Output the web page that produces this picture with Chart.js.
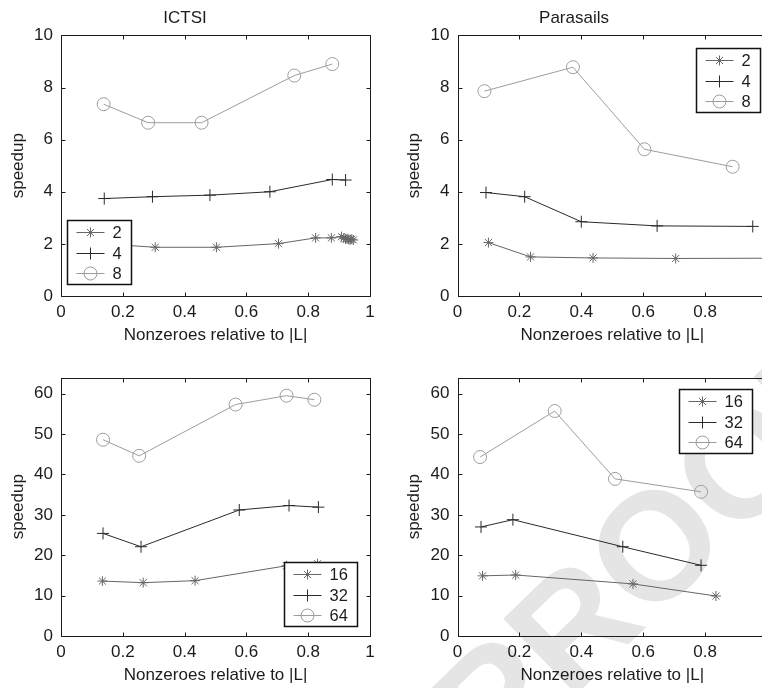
<!DOCTYPE html>
<html>
<head>
<meta charset="utf-8">
<title>Speedup vs. nonzeroes</title>
<script src="https://cdn.jsdelivr.net/npm/chart.js@4.4.1/dist/chart.umd.min.js"></script>
<style>
  html, body { margin: 0; padding: 0; background: #fff; overflow: hidden; }
  body { position: relative; width: 762px; height: 688px; }
  canvas { position: absolute; }
  #proof {
    position: absolute; left: 654px; top: 545px;
    transform: translate(-50%, -50%) rotate(-44deg);
    font: bold 153px "Liberation Sans", Arial, sans-serif;
    line-height: 1; color: #e5e5e5; white-space: nowrap;
  }
</style>
</head>
<body>
<div id="proof">PROOF</div>
<canvas id="ictsiLow" width="381" height="348" style="left:0;top:0"></canvas>
<canvas id="parasailsLow" width="400" height="348" style="left:381px;top:0"></canvas>
<canvas id="ictsiHigh" width="381" height="348" style="left:0;top:340px"></canvas>
<canvas id="parasailsHigh" width="400" height="348" style="left:381px;top:340px"></canvas>
<script>
// tick labels
const xTicks = [0, 0.2, 0.4, 0.6, 0.8, 1];
const yTicksLow = [0, 2, 4, 6, 8, 10];
const yTicksHigh = [0, 10, 20, 30, 40, 50, 60];

const xLabel = 'Nonzeroes relative to |L|';
const yLabel = 'speedup';

// ICTSI, 2 / 4 / 8 processors
const ictsiNnz2 = [0.14, 0.305, 0.503, 0.704, 0.824, 0.875, 0.908, 0.915, 0.921, 0.926, 0.931, 0.936, 0.941, 0.946];
const ictsiSpeedup2 = [2.0, 1.87, 1.87, 2.01, 2.23, 2.23, 2.28, 2.22, 2.19, 2.2, 2.17, 2.16, 2.18, 2.15];
const ictsiNnz4 = [0.14, 0.296, 0.482, 0.676, 0.878, 0.921];
const ictsiSpeedup4 = [3.74, 3.81, 3.87, 4.0, 4.47, 4.45];
const ictsiNnz8 = [0.138, 0.282, 0.455, 0.755, 0.878];
const ictsiSpeedup8 = [7.36, 6.65, 6.65, 8.46, 8.9];

// Parasails, 2 / 4 / 8 processors
const paraNnz2 = [0.1, 0.236, 0.438, 0.705, 1.0];
const paraSpeedup2 = [2.05, 1.5, 1.46, 1.44, 1.45];
const paraNnz4 = [0.092, 0.217, 0.4, 0.645, 0.954];
const paraSpeedup4 = [3.97, 3.81, 2.85, 2.69, 2.67];
const paraNnz8 = [0.087, 0.373, 0.604, 0.889];
const paraSpeedup8 = [7.86, 8.78, 5.63, 4.96];

// ICTSI, 16 / 32 / 64 processors
const ictsiNnz16 = [0.134, 0.266, 0.434, 0.73, 0.83];
const ictsiSpeedup16 = [13.6, 13.2, 13.7, 17.4, 17.9];
const ictsiNnz32 = [0.136, 0.259, 0.577, 0.738, 0.833];
const ictsiSpeedup32 = [25.4, 22.1, 31.2, 32.3, 31.9];
const ictsiNnz64 = [0.136, 0.253, 0.565, 0.73, 0.82];
const ictsiSpeedup64 = [48.6, 44.6, 57.3, 59.5, 58.5];

// Parasails, 16 / 32 / 64 processors
const paraNnz16 = [0.081, 0.188, 0.567, 0.835];
const paraSpeedup16 = [14.9, 15.1, 12.9, 9.9];
const paraNnz32 = [0.076, 0.179, 0.534, 0.787];
const paraSpeedup32 = [27.0, 28.8, 22.1, 17.5];
const paraNnz64 = [0.073, 0.314, 0.509, 0.787];
const paraSpeedup64 = [44.3, 55.7, 38.9, 35.7];

const FONT = '"Liberation Sans", Arial, Helvetica, sans-serif';
const INK = '#1c1c1c';

// matlab-ish line styles: '*-', '+-', 'o-'
const STYLES = [
  { marker: 'star', color: '#666666', radius: 5 },
  { marker: 'cross', color: '#2a2a2a', radius: 6 },
  { marker: 'circle', color: '#9d9d9d', radius: 6.5 }
];

// closed box with inward ticks on all four sides, plus a boxed legend inside the axes
const framePlugin = {
  id: 'frame',
  afterDraw(chart, args, opts) {
    const { ctx, chartArea: a, scales } = chart;
    const L = Math.round(a.left) + 0.5, R = Math.round(a.right) + 0.5;
    const T = Math.round(a.top) + 0.5, B = Math.round(a.bottom) + 0.5;
    const tick = 4;
    ctx.save();
    ctx.strokeStyle = INK;
    ctx.lineWidth = 1;
    ctx.strokeRect(L, T, R - L, B - T);
    ctx.beginPath();
    scales.x.ticks.forEach(t => {
      const px = Math.round(scales.x.getPixelForValue(t.value)) + 0.5;
      ctx.moveTo(px, B); ctx.lineTo(px, B - tick);
      ctx.moveTo(px, T); ctx.lineTo(px, T + tick);
    });
    scales.y.ticks.forEach(t => {
      const py = Math.round(scales.y.getPixelForValue(t.value)) + 0.5;
      ctx.moveTo(L, py); ctx.lineTo(L + tick, py);
      ctx.moveTo(R, py); ctx.lineTo(R - tick, py);
    });
    ctx.stroke();

    // legend
    const lg = opts.legend;
    if (lg) {
      ctx.font = '16.5px ' + FONT;
      const texts = chart.data.datasets.map(d => d.label);
      const tw = Math.max(...texts.map(s => ctx.measureText(s).width));
      const w = Math.round(45 + tw + 10), h = 64;
      const left = Math.round(lg.anchor.includes('l') ? a.left + lg.dx : a.right - lg.dx - w) + 0.5;
      const top = Math.round(lg.anchor.includes('t') ? a.top + lg.dy : a.bottom - lg.dy - h) + 0.5;
      ctx.fillStyle = '#fff';
      ctx.fillRect(left, top, w, h);
      ctx.lineWidth = 1.5;
      ctx.strokeStyle = '#111';
      ctx.strokeRect(left, top, w, h);
      chart.data.datasets.forEach((d, i) => {
        const y = Math.round(top + 11.5 + i * 20.5) + 0.5;
        ctx.lineWidth = 1;
        ctx.strokeStyle = d.borderColor;
        ctx.beginPath();
        ctx.moveTo(left + 9, y); ctx.lineTo(left + 37, y);
        ctx.stroke();
        ctx.fillStyle = 'rgba(0,0,0,0)';
        Chart.helpers.drawPoint(ctx, { pointStyle: d.pointStyle, radius: d.pointRadius, borderWidth: 1, rotation: 0 }, left + 23, y);
        ctx.fillStyle = INK;
        ctx.textBaseline = 'middle';
        ctx.textAlign = 'left';
        ctx.fillText(d.label, left + 45, y + 1);
      });
    }
    ctx.restore();
  }
};

function makePanel(id, cfg) {
  const datasets = cfg.series.map((s, i) => {
    const st = STYLES[i];
    return {
      label: s.label,
      data: s.x.map((x, j) => ({ x, y: s.y[j] })),
      borderColor: st.color,
      backgroundColor: 'rgba(0,0,0,0)',
      borderWidth: 1,
      tension: 0,
      fill: false,
      pointStyle: st.marker,
      pointRadius: st.radius,
      pointBorderWidth: 1,
      pointBorderColor: st.color,
      pointBackgroundColor: 'rgba(0,0,0,0)'
    };
  });
  const font = { family: FONT, size: 17, weight: 'normal' };
  const grid = { display: false, drawTicks: false };
  return new Chart(document.getElementById(id), {
    type: 'line',
    data: { datasets },
    plugins: [framePlugin],
    options: {
      responsive: false,
      animation: false,
      events: [],
      layout: { padding: { left: 0, right: cfg.padRight, top: cfg.title ? 0 : 37.5, bottom: 0 } },
      plugins: {
        legend: { display: false },
        tooltip: { enabled: false },
        title: {
          display: !!cfg.title, text: cfg.title, color: INK, font,
          padding: { top: 8, bottom: 7 }
        },
        frame: { legend: cfg.legend }
      },
      scales: {
        x: {
          type: 'linear', min: 0, max: 1,
          grid, border: { display: false },
          ticks: { color: INK, font, padding: 6, maxRotation: 0, callback: v => String(v) },
          afterBuildTicks: s => { s.ticks = xTicks.map(v => ({ value: v })); },
          afterFit: s => { s.height = 52; s.paddingLeft = 0; s.paddingRight = 0; },
          title: { display: true, text: xLabel, color: INK, font, padding: { top: 0, bottom: 2 } }
        },
        y: {
          type: 'linear', min: 0, max: cfg.yMax,
          grid, border: { display: false },
          ticks: { color: INK, font, padding: 8, callback: v => String(v) },
          afterBuildTicks: s => { s.ticks = cfg.yTicks.map(v => ({ value: v })); },
          afterFit: s => { s.width = cfg.yWidth; s.paddingTop = 0; s.paddingBottom = 0; },
          title: { display: true, text: yLabel, color: INK, font, padding: { top: cfg.yWidth - 43 - 10.2, bottom: 0 } }
        }
      }
    }
  });
}

makePanel('ictsiLow', {
  title: 'ICTSI', yMax: 10, yTicks: yTicksLow, yWidth: 61, padRight: 11,
  legend: { anchor: 'bl', dx: 6, dy: 12 },
  series: [
    { label: '2', x: ictsiNnz2, y: ictsiSpeedup2 },
    { label: '4', x: ictsiNnz4, y: ictsiSpeedup4 },
    { label: '8', x: ictsiNnz8, y: ictsiSpeedup8 }
  ]
});

makePanel('parasailsLow', {
  title: 'Parasails', yMax: 10, yTicks: yTicksLow, yWidth: 76.5, padRight: 14,
  legend: { anchor: 'tr', dx: 7, dy: 12.5 },
  series: [
    { label: '2', x: paraNnz2, y: paraSpeedup2 },
    { label: '4', x: paraNnz4, y: paraSpeedup4 },
    { label: '8', x: paraNnz8, y: paraSpeedup8 }
  ]
});

makePanel('ictsiHigh', {
  title: '', yMax: 64, yTicks: yTicksHigh, yWidth: 61, padRight: 11,
  legend: { anchor: 'br', dx: 13, dy: 10 },
  series: [
    { label: '16', x: ictsiNnz16, y: ictsiSpeedup16 },
    { label: '32', x: ictsiNnz32, y: ictsiSpeedup32 },
    { label: '64', x: ictsiNnz64, y: ictsiSpeedup64 }
  ]
});

makePanel('parasailsHigh', {
  title: '', yMax: 64, yTicks: yTicksHigh, yWidth: 76.5, padRight: 14,
  legend: { anchor: 'tr', dx: 15, dy: 11.5 },
  series: [
    { label: '16', x: paraNnz16, y: paraSpeedup16 },
    { label: '32', x: paraNnz32, y: paraSpeedup32 },
    { label: '64', x: paraNnz64, y: paraSpeedup64 }
  ]
});
</script>
</body>
</html>
